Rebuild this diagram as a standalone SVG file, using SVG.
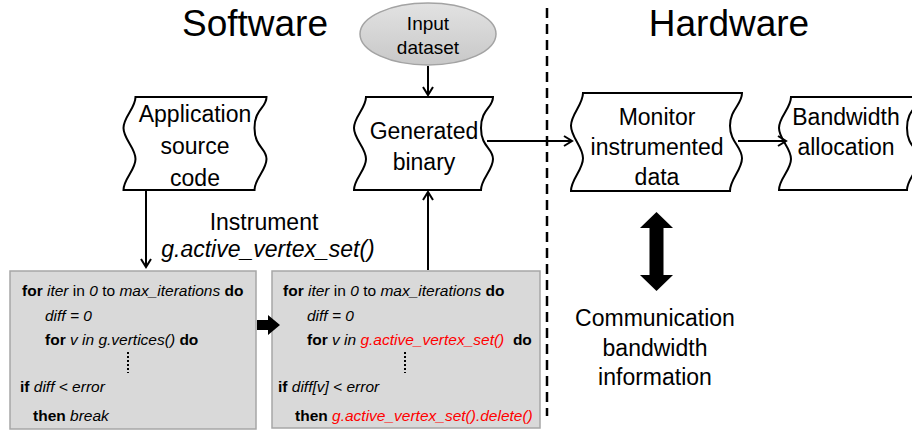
<svg xmlns="http://www.w3.org/2000/svg" width="912" height="433" viewBox="0 0 912 433">
<defs>
<marker id="open" markerWidth="12" markerHeight="12" refX="9" refY="6" orient="auto" markerUnits="userSpaceOnUse">
<path d="M1,1 L9,6 L1,11" fill="none" stroke="#000" stroke-width="2"/>
</marker>
<linearGradient id="ell" x1="0" y1="0" x2="0" y2="1">
<stop offset="0" stop-color="#e2e2e2"/>
<stop offset="1" stop-color="#c8c8c8"/>
</linearGradient>
</defs>
<style>
.title{font-family:"Liberation Sans",Arial,sans-serif;font-size:37px;fill:#000}
.lbl{font-family:"Liberation Sans",Arial,sans-serif;font-size:23px;fill:#000;text-anchor:middle}
.sm{font-family:"Liberation Sans",Arial,sans-serif;font-size:19px;fill:#000;text-anchor:middle}
.tape{fill:#fff;stroke:#000;stroke-width:2}
.code{fill:#d9d9d9;stroke:#a6a6a6;stroke-width:1.5}
.ct{font-family:"Liberation Sans",Arial,sans-serif;font-size:15.5px;fill:#000}
.b{font-weight:bold}
.i{font-style:italic}
.r{fill:#ff0000}
.conn{fill:none;stroke:#000;stroke-width:2}
.dots{stroke:#000;stroke-width:2;stroke-dasharray:2 2}
</style>

<text class="title" x="255" y="36" text-anchor="middle">Software</text>
<text class="title" x="729" y="36" text-anchor="middle">Hardware</text>

<line x1="547" y1="8" x2="547" y2="416" stroke="#000" stroke-width="2.5" stroke-dasharray="10 6"/>

<g id="input-dataset">
<ellipse cx="428" cy="34" rx="68" ry="31" fill="url(#ell)" stroke="#a3a3a3" stroke-width="1.5"/>
<text class="sm" x="428" y="30">Input</text>
<text class="sm" x="428" y="54">dataset</text>
</g>

<g id="application-source-code">
<path class="tape" d="M135.5,97 L266.5,97 C266.5,108.2 254.5,108.8 254.5,128 S266.5,147.8 266.5,159 S254.5,178.8 254.5,190 L123.5,190 C123.5,178.8 135.5,170.2 135.5,159 S123.5,139.2 123.5,128 S135.5,108.2 135.5,97 Z"/>
<text class="lbl" x="195" y="122">Application</text>
<text class="lbl" x="195" y="154">source</text>
<text class="lbl" x="195" y="186">code</text>
</g>

<g id="generated-binary">
<path class="tape" d="M366,97 L493,97 C493,108.2 481,108.8 481,128 S493,147.8 493,159 S481,178.8 481,190 L354,190 C354,178.8 366,170.2 366,159 S354,139.2 354,128 S366,108.2 366,97 Z"/>
<text class="lbl" x="424" y="139">Generated</text>
<text class="lbl" x="424" y="170">binary</text>
</g>

<g id="monitor-instrumented-data">
<path class="tape" d="M583,93 L742,93 C742,104.8 730,109.2 730,125.7 S742,146.6 742,158.3 S730,179.2 730,191 L571,191 C571,179.2 583,170 583,158.3 S571,137.4 571,125.7 S583,104.8 583,93 Z"/>
<text class="lbl" x="657" y="125">Monitor</text>
<text class="lbl" x="657" y="155">instrumented</text>
<text class="lbl" x="657" y="185">data</text>
</g>

<g id="bandwidth-allocation">
<path class="tape" d="M791,97 L919,97 C919,108.2 907,108.8 907,128 S919,147.8 919,159 S907,178.8 907,190 L779,190 C779,178.8 791,170.2 791,159 S779,139.2 779,128 S791,108.2 791,97 Z"/>
<text class="lbl" x="846" y="125">Bandwidth</text>
<text class="lbl" x="846" y="155">allocation</text>
</g>

<g id="instrument-label">
<text class="lbl" x="264" y="230">Instrument</text>
<text class="lbl" x="268" y="257" font-style="italic">g.active_vertex_set()</text>
</g>

<g id="code-original">
<rect class="code" x="10" y="271" width="246" height="158"/>
<text class="ct" x="22" y="296"><tspan class="b">for</tspan> <tspan class="i">iter</tspan> in <tspan class="i">0</tspan> to <tspan class="i">max_iterations</tspan> <tspan class="b">do</tspan></text>
<text class="ct i" x="45" y="321">diff = 0</text>
<text class="ct" x="45" y="345"><tspan class="b">for</tspan><tspan class="i"> v in g.vertices()</tspan> <tspan class="b">do</tspan></text>
<line class="dots" x1="128" y1="352" x2="128" y2="373"/>
<text class="ct" x="20" y="392"><tspan class="b">if</tspan><tspan class="i"> diff &lt; error</tspan></text>
<text class="ct" x="33" y="421"><tspan class="b">then</tspan><tspan class="i"> break</tspan></text>
</g>

<g id="code-instrumented">
<rect class="code" x="272" y="271" width="268" height="157"/>
<text class="ct" x="283" y="296"><tspan class="b">for</tspan> <tspan class="i">iter</tspan> in <tspan class="i">0</tspan> to <tspan class="i">max_iterations</tspan> <tspan class="b">do</tspan></text>
<text class="ct i" x="307" y="321">diff = 0</text>
<text class="ct" x="307" y="345"><tspan class="b">for</tspan><tspan class="i"> v in </tspan><tspan class="i r">g.active_vertex_set()</tspan><tspan class="b" xml:space="preserve">  do</tspan></text>
<line class="dots" x1="405" y1="352" x2="405" y2="373"/>
<text class="ct" x="278" y="392"><tspan class="b">if</tspan><tspan class="i"> diff[v] &lt; error</tspan></text>
<text class="ct" x="295" y="421"><tspan class="b">then</tspan><tspan class="i r"> g.active_vertex_set().delete()</tspan></text>
</g>

<g id="communication-info">
<polygon points="656.5,212 673,228 663.5,228 663.5,275 673,275 656.5,291 640,275 649.5,275 649.5,228 640,228" fill="#000"/>
<text class="lbl" x="655" y="326">Communication</text>
<text class="lbl" x="655" y="356">bandwidth</text>
<text class="lbl" x="655" y="385">information</text>
</g>

<g id="connectors">
<line class="conn" x1="428" y1="66" x2="428" y2="95" marker-end="url(#open)"/>
<line class="conn" x1="146" y1="191" x2="146" y2="267" marker-end="url(#open)"/>
<line class="conn" x1="428" y1="270" x2="428" y2="192" marker-end="url(#open)"/>
<line class="conn" x1="487" y1="141" x2="572" y2="141" marker-end="url(#open)"/>
<line class="conn" x1="738" y1="141" x2="786" y2="141" marker-end="url(#open)"/>
<polygon points="257,320 268,320 268,315 280,325 268,335 268,330 257,330" fill="#000"/>
</g>
</svg>
